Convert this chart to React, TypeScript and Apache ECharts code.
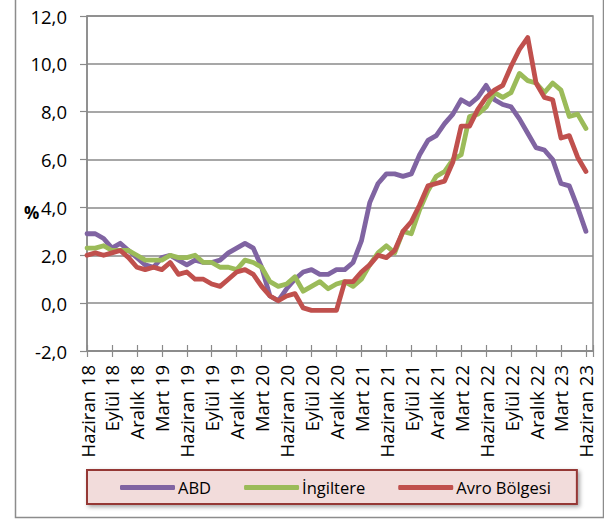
import React, { useEffect, useRef } from "react";
import * as echarts from "echarts";

// Tick labels shown every 3 months (Haziran 18 ... Haziran 23)
const tickLabels = [
  "Haziran 18", "Eylül 18", "Aralık 18", "Mart 19", "Haziran 19", "Eylül 19", "Aralık 19",
  "Mart 20", "Haziran 20", "Eylül 20", "Aralık 20", "Mart 21", "Haziran 21", "Eylül 21",
  "Aralık 21", "Mart 22", "Haziran 22", "Eylül 22", "Aralık 22", "Mart 23", "Haziran 23",
];

// Monthly inflation (%), June 2018 – June 2023
const abd = [
  2.9, 2.9, 2.7, 2.3, 2.5, 2.2, 1.9, 1.6, 1.5, 1.9,
  2.0, 1.8, 1.6, 1.8, 1.7, 1.7, 1.8, 2.1, 2.3, 2.5,
  2.3, 1.5, 0.3, 0.1, 0.6, 1.0, 1.3, 1.4, 1.2, 1.2,
  1.4, 1.4, 1.7, 2.6, 4.2, 5.0, 5.4, 5.4, 5.3, 5.4,
  6.2, 6.8, 7.0, 7.5, 7.9, 8.5, 8.3, 8.6, 9.1, 8.5,
  8.3, 8.2, 7.7, 7.1, 6.5, 6.4, 6.0, 5.0, 4.9, 4.0, 3.0,
];
const ingiltere = [
  2.3, 2.3, 2.4, 2.2, 2.2, 2.2, 2.0, 1.8, 1.8, 1.8,
  2.0, 1.9, 1.9, 2.0, 1.7, 1.7, 1.5, 1.5, 1.4, 1.8,
  1.7, 1.5, 0.9, 0.7, 0.8, 1.1, 0.5, 0.7, 0.9, 0.6,
  0.8, 0.9, 0.7, 1.0, 1.6, 2.1, 2.4, 2.1, 3.0, 2.9,
  3.9, 4.7, 5.3, 5.5, 6.0, 6.2, 7.8, 7.9, 8.2, 8.8,
  8.6, 8.8, 9.6, 9.3, 9.2, 8.8, 9.2, 8.9, 7.8, 7.9, 7.3,
];
const avro = [
  2.0, 2.1, 2.0, 2.1, 2.2, 1.9, 1.5, 1.4, 1.5, 1.4,
  1.7, 1.2, 1.3, 1.0, 1.0, 0.8, 0.7, 1.0, 1.3, 1.4,
  1.2, 0.7, 0.3, 0.1, 0.3, 0.4, -0.2, -0.3, -0.3, -0.3,
  -0.3, 0.9, 0.9, 1.3, 1.6, 2.0, 1.9, 2.2, 3.0, 3.4,
  4.1, 4.9, 5.0, 5.1, 5.9, 7.4, 7.4, 8.1, 8.6, 8.9,
  9.1, 9.9, 10.6, 11.1, 9.2, 8.6, 8.5, 6.9, 7.0, 6.1, 5.5,
];

const seriesNames = ["ABD", "İngiltere", "Avro Bölgesi"];
const seriesColors = ["#8064A2", "#9BBB59", "#C0504D"];

export default function App() {
  const ref = useRef<HTMLDivElement>(null);

  useEffect(() => {
    document.body.style.margin = "0";
    const chart = echarts.init(ref.current as HTMLDivElement, null, { renderer: "svg" });
    const font = "Open Sans";
    const gray = "#8a8a8a";
    const xMax = 60.85;
    const all = [abd, ingiltere, avro];

    const xCommon = {
      type: "value" as const,
      min: 0,
      max: xMax,
      interval: 3,
      position: "bottom" as const,
      splitLine: { show: false },
    };

    chart.setOption({
      animation: false,
      backgroundColor: "#ffffff",
      textStyle: { fontFamily: font },
      grid: {
        left: 87,
        right: 11,
        top: 16,
        bottom: 168,
        show: true,
        borderColor: gray,
        borderWidth: 1.5,
        backgroundColor: "transparent",
      },
      xAxis: [
        {
          ...xCommon,
          axisLine: { onZero: false, lineStyle: { color: gray, width: 1.5 } },
          axisTick: { show: true, length: 6, lineStyle: { color: gray, width: 1.2 } },
          axisLabel: {
            rotate: 90,
            margin: 14,
            fontSize: 18.5,
            fontFamily: font,
            color: "#000",
            formatter: (v: number) =>
              Number.isInteger(v) && v % 3 === 0 ? tickLabels[v / 3] ?? "" : "",
          },
        },
        {
          ...xCommon,
          axisLine: { show: false, onZero: false },
          axisTick: { show: true, inside: true, length: 6, lineStyle: { color: gray, width: 1.2 } },
          axisLabel: { show: false },
        },
      ],
      yAxis: {
        type: "value",
        min: -2,
        max: 12,
        interval: 2,
        axisLine: { show: true, onZero: false, lineStyle: { color: gray, width: 1.5 } },
        axisTick: { show: true, length: 7, lineStyle: { color: gray, width: 1.2 } },
        splitLine: { show: true, lineStyle: { color: gray, width: 1.5 } },
        axisLabel: {
          margin: 20,
          fontSize: 18.5,
          fontFamily: font,
          color: "#000",
          formatter: (v: number) => v.toFixed(1).replace(".", ","),
        },
      },
      legend: {
        left: 87,
        top: 470,
        orient: "horizontal",
        data: seriesNames,
        icon: "roundRect",
        itemWidth: 55,
        itemHeight: 5,
        itemGap: 33,
        padding: [9, 26, 8, 33],
        backgroundColor: "#F2DCDB",
        borderColor: "#953735",
        borderWidth: 2,
        borderRadius: 0,
        shadowColor: "rgba(0,0,0,0.35)",
        shadowBlur: 4,
        shadowOffsetX: 2,
        shadowOffsetY: 2,
        textStyle: { fontSize: 16.5, fontFamily: font, color: "#000", padding: [0, 0, 0, -2] },
      },
      graphic: [
        {
          type: "rect",
          left: 13,
          top: -10,
          shape: { x: 0, y: 0, width: 588, height: 525 },
          style: { fill: "none", stroke: "#8c8c8c", lineWidth: 1.5 },
          silent: true,
          z: -10,
        },
        {
          type: "text",
          left: 24,
          top: 204,
          style: { text: "%", font: `bold 17px ${font}`, fill: "#000" },
          silent: true,
        },
      ],
      series: seriesNames.map((name, k) => ({
        type: "line",
        name,
        xAxisIndex: 0,
        data: all[k].map((v, i) => [i, v]),
        symbol: "none",
        smooth: false,
        itemStyle: { color: seriesColors[k] },
        lineStyle: { color: seriesColors[k], width: 4.8, cap: "round", join: "round" },
        z: 2 + k,
      })),
    });

    return () => chart.dispose();
  }, []);

  return (
    <div
      ref={ref}
      style={{ position: "absolute", left: 0, top: 0, width: 604, height: 519 }}
    />
  );
}
